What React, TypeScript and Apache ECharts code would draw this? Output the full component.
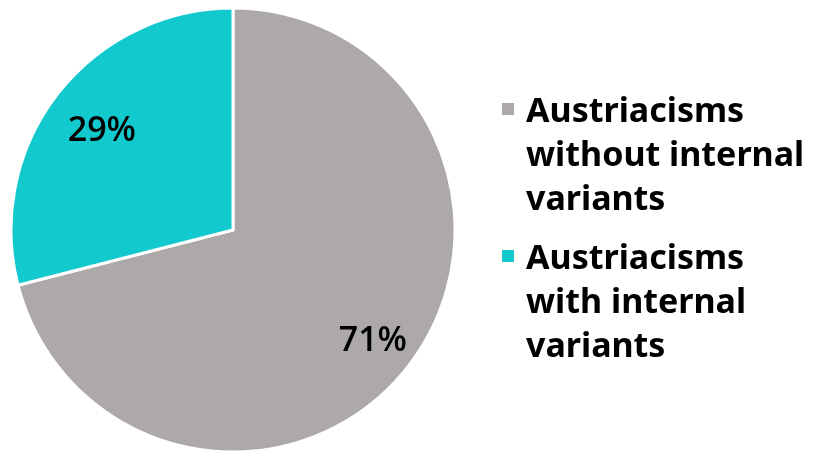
import React, { useEffect, useRef } from "react";
import * as echarts from "echarts";

const categories = ["Austriacisms without internal variants", "Austriacisms with internal variants"];
const legendLabels = ["Austriacisms\nwithout internal\nvariants", "Austriacisms\nwith internal\nvariants"];
const values = [71, 29];
const colors = ["#ACA9A8", "#12C9CD"];
const labelRings = [
  [126, 222],
  [104, 222],
];

export default function App() {
  const ref = useRef<HTMLDivElement>(null);
  useEffect(() => {
    document.body.style.margin = "0";
    const chart = echarts.init(ref.current!, null, { renderer: "svg" });
    const data = categories.map((name, i) => ({ name, value: values[i], itemStyle: { color: colors[i] } }));
    const labelSeries = labelRings.map((ring, k) => ({
      type: "pie",
      center: [233, 230],
      radius: ring,
      startAngle: 90,
      clockwise: true,
      data: categories.map((name, i) => ({
        name,
        value: values[i],
        itemStyle: { color: "rgba(0,0,0,0)" },
        label: { show: i === k },
      })),
      label: {
        show: true,
        position: "inside",
        formatter: "{c}%",
        fontFamily: "Open Sans",
        fontWeight: 600,
        fontSize: 34,
        color: "#000",
      },
      labelLine: { show: false },
      silent: true,
    }));
    chart.setOption({
      animation: false,
      legend: {
        orient: "vertical",
        left: 500,
        top: -1,
        padding: 0,
        itemGap: -73,
        icon: "rect",
        itemWidth: 14,
        itemHeight: 14,
        data: categories,
        formatter: (name: string) => "\n\n" + legendLabels[categories.indexOf(name)],
        textStyle: {
          fontFamily: "Noto Sans",
          fontWeight: "bold",
          fontSize: 34,
          lineHeight: 44,
          color: "#000",
          padding: [0, 0, 0, 6],
        },
      },
      series: [
        {
          type: "pie",
          center: [233, 230],
          radius: [0, 222],
          startAngle: 90,
          clockwise: true,
          data,
          label: { show: false },
          labelLine: { show: false },
          itemStyle: { borderColor: "#fff", borderWidth: 3 },
          silent: true,
        },
        ...labelSeries,
      ],
    });
    return () => chart.dispose();
  }, []);
  return <div ref={ref} style={{ position: "fixed", left: 0, top: 0, width: 813, height: 451 }} />;
}
